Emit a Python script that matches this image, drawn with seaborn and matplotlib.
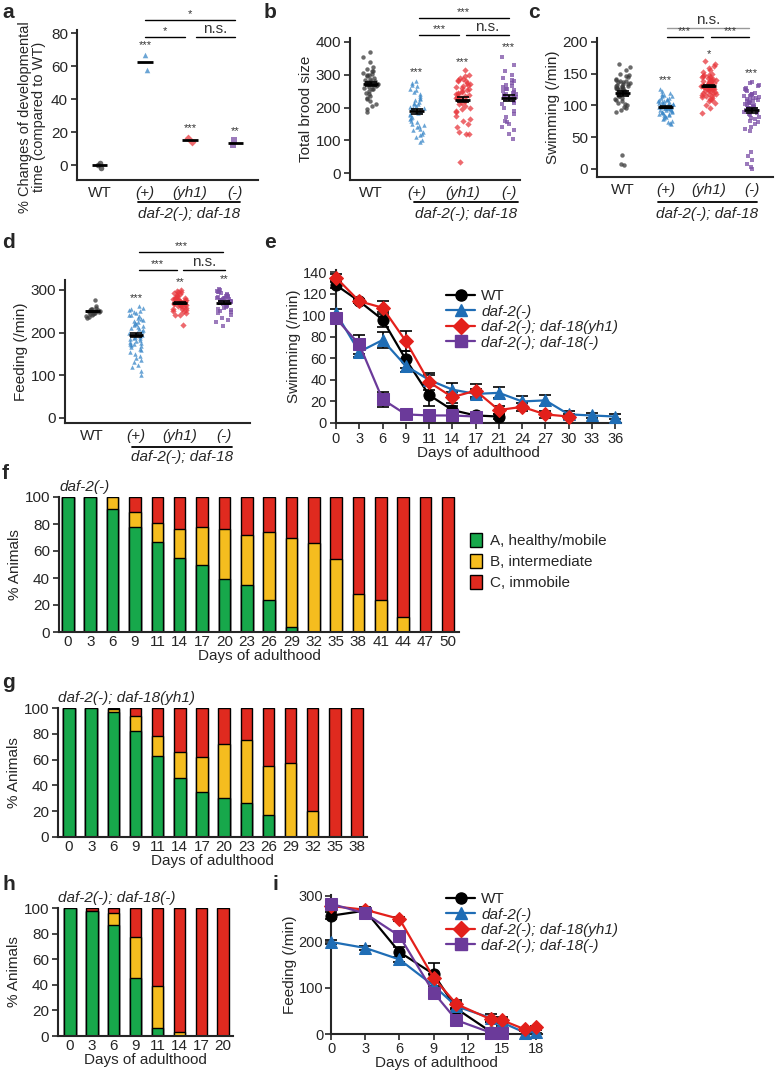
import numpy as np
import pandas as pd
import seaborn as sns
import matplotlib.pyplot as plt
from matplotlib.lines import Line2D
from matplotlib.patches import Patch

# ---------------- data ----------------
groups = ['WT', '(+)', '(yh1)', '(-)']

# a: % change of developmental time
dev_wt = [1.5, -1.5, 0.0]
dev_plus = [67, 58]
dev_yh1 = [14, 16.5]
dev_minus = [15, 12.5]

# b: total brood size
brood_wt = [368, 355, 340, 325, 318, 312, 310, 305, 302, 300, 298, 295, 290, 288, 285, 282, 280, 278,
            276, 275, 273, 272, 270, 268, 266, 262, 260, 258, 255, 250, 245, 240, 235, 230, 225, 220,
            212, 205, 195, 185]
brood_plus = [280, 275, 270, 265, 258, 252, 248, 240, 235, 230, 225, 222, 218, 215, 212, 210, 205, 202,
              200, 198, 195, 192, 190, 188, 185, 182, 180, 176, 172, 168, 165, 160, 155, 150, 148, 145,
              140, 135, 130, 125, 120, 115, 110, 100, 95]
brood_yh1 = [315, 300, 295, 290, 288, 285, 282, 280, 276, 272, 268, 265, 262, 260, 255, 252, 250, 248,
             245, 242, 240, 238, 235, 232, 230, 228, 225, 222, 220, 215, 210, 205, 200, 195, 190, 185,
             175, 165, 160, 150, 140, 125, 120, 118, 35]
brood_minus = [355, 330, 310, 300, 290, 285, 280, 275, 270, 265, 262, 258, 255, 252, 250, 248, 245, 242,
               240, 238, 236, 234, 232, 230, 228, 225, 220, 215, 210, 200, 190, 180, 170, 160, 155, 150,
               140, 130, 120, 105]

# c: swimming
swim_wt = [165, 160, 155, 150, 148, 146, 144, 142, 140, 139, 138, 137, 136, 135, 134, 133, 132, 131, 130,
           130, 129, 128, 128, 127, 126, 125, 125, 124, 123, 122, 121, 120, 119, 118, 117, 116, 115, 114,
           112, 110, 108, 106, 104, 102, 100, 98, 95, 92, 90, 22, 8, 6]
swim_plus = [125, 122, 120, 118, 116, 115, 114, 112, 111, 110, 109, 108, 107, 106, 105, 105, 104, 103,
             102, 102, 101, 100, 100, 99, 99, 98, 98, 97, 97, 96, 96, 95, 95, 94, 93, 93, 92, 91, 90, 90,
             89, 88, 87, 86, 85, 84, 83, 82, 80, 78, 76, 74, 72, 70]
swim_yh1 = [170, 165, 162, 158, 155, 152, 150, 148, 147, 146, 145, 144, 143, 142, 141, 140, 139, 138, 138,
            137, 136, 135, 135, 134, 133, 133, 132, 132, 131, 131, 130, 130, 129, 129, 128, 128, 127, 126,
            125, 125, 124, 123, 122, 121, 120, 119, 118, 117, 116, 115, 114, 113, 112, 110, 108, 106, 104,
            100, 96, 88]
swim_minus = [137, 135, 132, 130, 128, 126, 124, 122, 120, 118, 117, 116, 115, 114, 113, 112, 111, 110,
              109, 108, 107, 106, 105, 104, 103, 102, 101, 100, 99, 98, 97, 96, 95, 94, 93, 92, 91, 90,
              88, 86, 84, 82, 80, 78, 76, 74, 70, 66, 62, 60, 27, 20, 14, 8, 3, 0]

# d: feeding
feed_wt = [275, 262, 258, 256, 254, 253, 252, 251, 250, 249, 248, 247, 246, 245, 244, 243, 241, 239, 237, 235]
feed_plus = [262, 258, 255, 252, 250, 248, 245, 242, 240, 238, 235, 232, 230, 228, 225, 222, 220, 218,
             215, 212, 210, 208, 205, 203, 200, 198, 196, 194, 192, 190, 188, 186, 184, 182, 180, 178,
             176, 174, 172, 170, 168, 165, 162, 160, 155, 150, 145, 140, 135, 130, 125, 120, 110, 100]
feed_yh1 = [300, 298, 296, 294, 292, 290, 288, 286, 284, 282, 281, 280, 279, 278, 277, 276, 275, 274, 273,
            272, 271, 270, 269, 268, 267, 266, 265, 264, 263, 262, 260, 258, 256, 254, 252, 250, 248, 245,
            242, 240, 218]
feed_minus = [302, 300, 298, 296, 294, 292, 290, 288, 286, 285, 284, 283, 282, 281, 280, 279, 278, 277,
              276, 275, 274, 273, 272, 271, 270, 268, 266, 264, 262, 260, 258, 255, 252, 250, 248, 245,
              240, 235, 230, 225, 215]

# e: swimming over age (categorical days)
days_e = [0, 3, 6, 9, 11, 14, 17, 21, 24, 27, 30, 33, 36]
e_wt = [128, 113, 96, 59, 26, 12, 7, 6]
e_wt_sem = [3, 2, 7, 8, 10, 4, 2, 2]
e_daf2 = [102, 66, 77, 53, 40, 31, 27, 28, 20, 21, 8, 7, 6]
e_daf2_sem = [4, 5, 7, 6, 6, 6, 5, 5, 5, 5, 3, 2, 2]
e_yh1 = [135, 113, 107, 76, 38, 24, 30, 12, 15, 8, 6]
e_yh1_sem = [3, 2, 6, 9, 7, 5, 6, 4, 4, 3, 2]
e_null = [97, 73, 22, 8, 7, 7, 6]
e_null_sem = [3, 9, 7, 2, 2, 2, 2]

# f, g, h: mobility classes (% animals)
days_f = [0, 3, 6, 9, 11, 14, 17, 20, 23, 26, 29, 32, 35, 38, 41, 44, 47, 50]
f_a = [100, 100, 91, 78, 67, 55, 50, 39, 35, 24, 4, 0, 0, 0, 0, 0, 0, 0]
f_b = [0, 0, 9, 11, 14, 21, 28, 37, 37, 50, 66, 66, 54, 28, 24, 11, 0, 0]
f_c = [0, 0, 0, 11, 19, 24, 22, 24, 28, 26, 30, 34, 46, 72, 76, 89, 100, 100]

days_g = [0, 3, 6, 9, 11, 14, 17, 20, 23, 26, 29, 32, 35, 38]
g_a = [100, 100, 97, 82, 63, 46, 35, 30, 26, 17, 0, 0, 0, 0]
g_b = [0, 0, 2, 12, 15, 20, 27, 42, 49, 38, 57, 20, 0, 0]
g_c = [0, 0, 1, 6, 22, 34, 38, 28, 25, 45, 43, 80, 100, 100]

days_h = [0, 3, 6, 9, 11, 14, 17, 20]
h_a = [100, 98, 87, 45, 6, 0, 0, 0]
h_b = [0, 0, 9, 32, 33, 3, 0, 0]
h_c = [0, 2, 4, 23, 61, 97, 100, 100]

# i: feeding over age (numeric days)
i_wt_days = [0, 3, 6, 9, 11, 14]
i_wt = [257, 268, 178, 130, 55, 5]
i_wt_sem = [8, 5, 10, 25, 15, 5]
i_daf2_days = [0, 3, 6, 9, 11, 14, 15, 17, 18]
i_daf2 = [200, 187, 162, 105, 60, 35, 25, 3, 5]
i_daf2_sem = [5, 5, 6, 8, 6, 8, 8, 3, 3]
i_yh1_days = [0, 3, 6, 9, 11, 14, 15, 17, 18]
i_yh1 = [278, 270, 250, 122, 65, 32, 30, 10, 15]
i_yh1_sem = [6, 5, 5, 8, 8, 6, 6, 4, 3]
i_null_days = [0, 3, 6, 9, 11, 14, 15]
i_null = [283, 262, 213, 90, 30, 3, 2]
i_null_sem = [5, 8, 8, 8, 6, 3, 3]

# ---------------- style ----------------
sns.set_theme(style="ticks")
plt.rcParams['font.family'] = ['Liberation Sans', 'DejaVu Sans']
plt.rcParams['axes.linewidth'] = 1.5
plt.rcParams['xtick.major.width'] = 1.2
plt.rcParams['ytick.major.width'] = 1.2
plt.rcParams['xtick.major.size'] = 4
plt.rcParams['ytick.major.size'] = 4
plt.rcParams['xtick.major.pad'] = 2.5
plt.rcParams['ytick.major.pad'] = 2.5
plt.rcParams['xtick.labelsize'] = 11
plt.rcParams['ytick.labelsize'] = 11
plt.rcParams['axes.labelsize'] = 11

pt_colors = ['#3a3a3a', '#3a87c8', '#e8383d', '#7b4fa6']
pt_markers = ['o', '^', 'D', 's']
ln_colors = ['black', '#1f6db5', '#e3201b', '#6b3a9a']
green, yellow, red = '#17a84b', '#f5bd1f', '#e02a1f'

W, H = 775, 1072
fig = plt.figure(figsize=(W / 100, H / 100), dpi=100)


def add_ax(l, t, r, b):
    ax = fig.add_axes([l / W, 1 - b / H, (r - l) / W, (b - t) / H])
    sns.despine(ax=ax)
    return ax


def letter(x, y, s):
    fig.text(x / W, 1 - y / H, s, fontsize=15, fontweight='bold', va='center', ha='left')


def genotype_line(ax, x0, x1, line_px, text_px):
    h = ax.get_position().height * H
    tr = ax.get_xaxis_transform()
    ax.plot([x0, x1], [-line_px / h] * 2, transform=tr, color='black', lw=1.3, clip_on=False)
    ax.text((x0 + x1) / 2, -text_px / h, 'daf-2(-); daf-18', transform=tr, ha='center', va='center',
            style='italic', fontsize=11)


def bracket(ax, x0, x1, y, text, color='black', fs=8):
    ax.plot([x0, x1], [y, y], color=color, lw=1.0, clip_on=False)
    if text == 'n.s.':
        fs = 11
    ax.annotate(text, xy=((x0 + x1) / 2, y), xytext=(0, 0.5), textcoords='offset points',
                ha='center', va='bottom', fontsize=fs, color='#333333', annotation_clip=False)


def stars(ax, x, y, text):
    ax.text(x, y, text, ha='center', va='center', fontsize=8, color='#333333', clip_on=False)


def scatter_panel(ax, data, jitter, size, sem=True):
    df = pd.concat([pd.DataFrame({'group': g, 'value': v}) for g, v in zip(groups, data)])
    for g, m, c in zip(groups, pt_markers, pt_colors):
        sns.stripplot(data=df[df.group == g], x='group', y='value', order=groups, marker=m, color=c,
                      size=size, jitter=jitter, alpha=0.75, linewidth=0, ax=ax, clip_on=False, zorder=2)
    for i, v in enumerate(data):
        m = np.mean(v)
        ax.hlines(m, i - 0.17, i + 0.17, color='black', lw=2.0, zorder=5)
        if sem:
            s = np.std(v, ddof=1) / np.sqrt(len(v))
            ax.errorbar(i, m, yerr=s, color='black', capsize=4, lw=1.2, capthick=1.2, zorder=5)
    ax.set_xticks(range(4), groups)
    for t in ax.get_xticklabels()[1:]:
        t.set_style('italic')
    ax.tick_params(axis='x', length=0, labelsize=11, pad=4)
    ax.set_xlabel('')


np.random.seed(3)

# ---- a ----
ax = add_ax(77, 30, 258, 180)
scatter_panel(ax, [dev_wt, dev_plus, dev_yh1, dev_minus], 0.06, 4, sem=False)
ax.set_xlim(-0.5, 3.5)
ax.set_ylim(-9, 82)
ax.set_yticks([0, 20, 40, 60, 80])
ax.set_ylabel('% Changes of developmental\ntime (compared to WT)', fontsize=10.5, linespacing=1.05)
ax.yaxis.set_label_coords(-0.17, 0.42)
stars(ax, 1, 73, '***'); stars(ax, 2, 22.5, '***'); stars(ax, 3, 20.7, '**')
bracket(ax, 1.0, 1.88, 78, '*'); bracket(ax, 2.12, 3.0, 78, 'n.s.'); bracket(ax, 1.0, 3.0, 88, '*')
genotype_line(ax, 0.84, 3.1, 22, 34)
letter(2, 12, 'a')

# ---- b ----
ax = add_ax(350, 38, 520, 180)
scatter_panel(ax, [brood_wt, brood_plus, brood_yh1, brood_minus], 0.17, 3.2)
ax.set_xlim(-0.45, 3.25)
ax.set_ylim(-21, 412)
ax.set_yticks([0, 100, 200, 300, 400])
ax.set_ylabel('Total brood size', labelpad=2)
stars(ax, 1, 308, '***'); stars(ax, 2, 339, '***'); stars(ax, 3, 385, '***')
bracket(ax, 1.05, 1.92, 421, '***'); bracket(ax, 2.08, 3.0, 421, 'n.s.'); bracket(ax, 1.05, 3.0, 473, '***')
genotype_line(ax, 0.95, 3.2, 22, 34)
letter(264, 12, 'b')

# ---- c ----
ax = add_ax(597, 38, 773, 177)
scatter_panel(ax, [swim_wt, swim_plus, swim_yh1, swim_minus], 0.17, 3.2)
ax.set_xlim(-0.6, 3.5)
ax.set_ylim(-13, 206)
ax.set_yticks([0, 50, 100, 150, 200])
ax.set_ylabel('Swimming (/min)', labelpad=2)
stars(ax, 1, 140, '***'); stars(ax, 2, 181, '*'); stars(ax, 3, 151, '***')
bracket(ax, 1.02, 1.86, 208, '***'); bracket(ax, 2.05, 2.95, 208, '***')
bracket(ax, 1.02, 2.95, 222, 'n.s.', color='#999999')
genotype_line(ax, 0.82, 3.12, 25, 37)
letter(528, 12, 'c')

# ---- d ----
ax = add_ax(65, 280, 250, 423)
scatter_panel(ax, [feed_wt, feed_plus, feed_yh1, feed_minus], 0.17, 3.2)
ax.set_xlim(-0.62, 3.6)
ax.set_ylim(-12, 323)
ax.set_yticks([0, 100, 200, 300])
ax.set_ylabel('Feeding (/min)', labelpad=2)
stars(ax, 1, 281, '***'); stars(ax, 2, 318, '**'); stars(ax, 3, 325, '**')
bracket(ax, 1.06, 1.93, 347, '***'); bracket(ax, 2.07, 3.03, 347, 'n.s.'); bracket(ax, 1.06, 2.99, 389, '***')
genotype_line(ax, 0.9, 3.2, 24, 34)
letter(2, 243, 'd')


# ---- line panels ----
def line_series(ax, xs, ys, sem, color, marker, ms=8):
    ax.errorbar(xs, ys, yerr=sem, fmt='none', ecolor='black', elinewidth=1.2, capsize=4, capthick=1.2,
                zorder=2, clip_on=False)
    sns.lineplot(x=xs, y=ys, color=color, marker=marker, markersize=ms, markeredgecolor=color,
                 lw=1.6, ax=ax, clip_on=False, zorder=3)


def line_legend(ax, x, y):
    handles = [Line2D([0], [0], color=c, marker=m, markersize=8, lw=1.6)
               for c, m in zip(ln_colors, ['o', '^', 'D', 's'])]
    labels = ['WT', 'daf-2(-)', 'daf-2(-); daf-18(yh1)', 'daf-2(-); daf-18(-)']
    leg = ax.legend(handles, labels, loc='upper left', bbox_to_anchor=(x / W, 1 - y / H),
                    bbox_transform=fig.transFigure, frameon=False, fontsize=11, handlelength=1.9,
                    handletextpad=0.4, labelspacing=0.1, borderpad=0, borderaxespad=0)
    for t in leg.get_texts()[1:]:
        t.set_style('italic')


# ---- e ----
ax = add_ax(336, 270, 621, 423)
pos = list(range(len(days_e)))
line_series(ax, pos[:len(e_wt)], e_wt, e_wt_sem, ln_colors[0], 'o')
line_series(ax, pos[:len(e_daf2)], e_daf2, e_daf2_sem, ln_colors[1], '^')
line_series(ax, pos[:len(e_yh1)], e_yh1, e_yh1_sem, ln_colors[2], 'D', 7)
line_series(ax, pos[:len(e_null)], e_null, e_null_sem, ln_colors[3], 's')
ax.set_xlim(0, 12.25)
ax.set_ylim(0, 142)
ax.set_xticks(pos, [str(d) for d in days_e])
ax.set_yticks(range(0, 141, 20))
ax.tick_params(labelsize=10.5)
ax.set_xlabel('Days of adulthood', labelpad=0)
ax.set_ylabel('Swimming (/min)', labelpad=1)
line_legend(ax, 446, 289)
letter(264, 243, 'e')

# ---- i ----
ax = add_ax(331, 895, 542, 1034)
line_series(ax, i_wt_days, i_wt, i_wt_sem, ln_colors[0], 'o')
line_series(ax, i_daf2_days, i_daf2, i_daf2_sem, ln_colors[1], '^')
line_series(ax, i_yh1_days, i_yh1, i_yh1_sem, ln_colors[2], 'D', 7)
line_series(ax, i_null_days, i_null, i_null_sem, ln_colors[3], 's')
ax.set_xlim(0, 18.5)
ax.set_ylim(0, 302)
ax.set_xticks(range(0, 19, 3))
ax.set_yticks([0, 100, 200, 300])
ax.tick_params(labelsize=10.5, pad=1.5)
ax.set_xlabel('Days of adulthood', labelpad=0)
ax.set_ylabel('Feeding (/min)', labelpad=1)
line_legend(ax, 446, 892)
letter(272, 885, 'i')


# ---- stacked bars ----
def stacked_panel(ax, days, a, b, c, title):
    a, b, c = np.array(a), np.array(b), np.array(c)
    df = pd.DataFrame({'day': [str(d) for d in days], 'abc': a + b + c, 'ab': a + b, 'a': a})
    for col, colr in [('abc', red), ('ab', yellow), ('a', green)]:
        sns.barplot(data=df, x='day', y=col, color=colr, saturation=1, width=0.52, edgecolor='black',
                    linewidth=1.0, errorbar=None, ax=ax)
    ax.set_ylim(0, 100)
    ax.set_yticks(range(0, 101, 20))
    ax.tick_params(axis='x', length=0)
    ax.set_xlabel('Days of adulthood', labelpad=0)
    ax.set_ylabel('% Animals', labelpad=2)
    ax.text(0.0, 1.02, title, transform=ax.transAxes, style='italic', fontsize=11, ha='left', va='bottom')


ax = add_ax(59, 497, 459, 632)
stacked_panel(ax, days_f, f_a, f_b, f_c, 'daf-2(-)')
ax.set_xlim(-0.4, 17.5)
leg = ax.legend(handles=[Patch(facecolor=green, edgecolor='black', label='A, healthy/mobile'),
                         Patch(facecolor=yellow, edgecolor='black', label='B, intermediate'),
                         Patch(facecolor=red, edgecolor='black', label='C, immobile')],
                loc='upper left', bbox_to_anchor=(470 / W, 1 - 533 / H), bbox_transform=fig.transFigure,
                frameon=False, fontsize=11, handlelength=0.8, handleheight=1.0, handletextpad=0.5,
                labelspacing=0.4, borderpad=0, borderaxespad=0)
letter(2, 473, 'f')

ax = add_ax(58, 708, 367, 837)
stacked_panel(ax, days_g, g_a, g_b, g_c, 'daf-2(-); daf-18(yh1)')
ax.set_xlim(-0.5, 13.45)
letter(2, 683, 'g')

ax = add_ax(58, 908, 233, 1036)
stacked_panel(ax, days_h, h_a, h_b, h_c, 'daf-2(-); daf-18(-)')
ax.set_xlim(-0.55, 7.45)
letter(2, 885, 'h')

fig.savefig('out.png', dpi=100)
